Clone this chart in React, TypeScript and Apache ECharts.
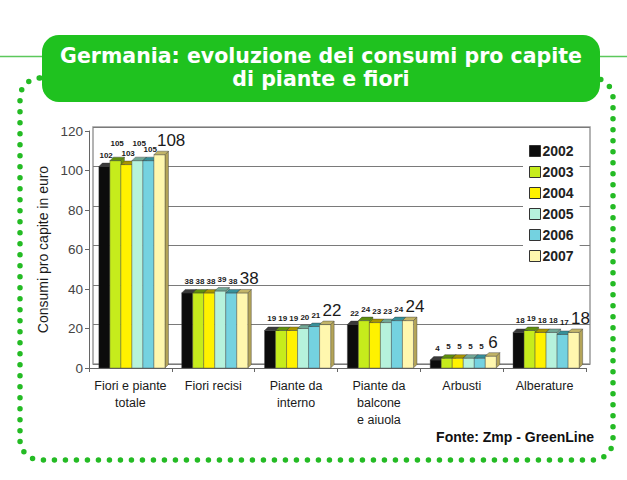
import React, { useEffect, useRef } from "react";
import * as echarts from "echarts";

const categories = [
  "Fiori e piante\ntotale",
  "Fiori recisi",
  "Piante da\ninterno",
  "Piante da\nbalcone\ne aiuola",
  "Arbusti",
  "Alberature",
];
const years = ["2002", "2003", "2004", "2005", "2006", "2007"];
const v2002 = [102, 38, 19, 22, 4, 18];
const v2003 = [105, 38, 19, 24, 5, 19];
const v2004 = [103, 38, 19, 23, 5, 18];
const v2005 = [105, 39, 20, 23, 5, 18];
const v2006 = [105, 38, 21, 24, 5, 17];
const v2007 = [108, 38, 22, 24, 6, 18];
const seriesValues = [v2002, v2003, v2004, v2005, v2006, v2007];

const frontColors = ["#0c0c0c", "#c6ec1c", "#fff200", "#b6f2dc", "#74d2e0", "#fff7ae"];
const topColors = ["#3a3a3a", "#5f8f0c", "#a89600", "#72a896", "#36909a", "#c2b468"];
const sideColors = ["#000000", "#6f9a08", "#b8a400", "#86b8a6", "#4a9ca6", "#b4a458"];

const SANS = "'Liberation Sans', Arial, sans-serif";
const TITLE_FONT = "'DejaVu Sans', 'Liberation Sans', sans-serif";

export default function App() {
  const ref = useRef<HTMLDivElement>(null);

  useEffect(() => {
    if (!ref.current) return;
    const chart = echarts.init(ref.current, undefined, { renderer: "svg" });
    const d = 3.5;

    const makeRender = (si: number) => (params: any, api: any) => {
      const ci = api.value(0);
      const v = api.value(1);
      const base = api.coord([ci, 0]);
      const top = api.coord([ci, v]);
      const band = api.size([1, 0])[0];
      const bw = band * 0.133;
      const x0 = base[0] - (bw * 6) / 2 + si * bw + 1.5;
      const x1 = x0 + bw;
      const yT = top[1];
      const yB = base[1];
      const big = si === 5;
      const raised = (si === 1 || si === 3) && v >= 100;
      return {
        type: "group",
        children: [
          {
            type: "polygon",
            shape: { points: [[x1, yT], [x1 + d, yT - d], [x1 + d, yB - d], [x1, yB]] },
            style: { fill: sideColors[si], stroke: "#333", lineWidth: 0.4 },
          },
          {
            type: "rect",
            shape: { x: x0, y: yT, width: bw, height: yB - yT },
            style: { fill: frontColors[si], stroke: "#444", lineWidth: 0.4 },
          },
          {
            type: "polygon",
            shape: { points: [[x0, yT], [x0 + d, yT - d], [x1 + d, yT - d], [x1, yT]] },
            style: { fill: topColors[si], stroke: "#333", lineWidth: 0.4 },
          },
          {
            type: "text",
            z2: 10,
            style: big
              ? {
                  x: x0 + 3,
                  y: yT - d - 2,
                  text: String(v),
                  align: "left",
                  verticalAlign: "bottom",
                  fontSize: 17,
                  fontFamily: SANS,
                  fill: "#1a1a1a",
                }
              : {
                  x: (x0 + x1) / 2 + d / 2,
                  y: yT - d - (raised ? 10 : 4),
                  text: String(v),
                  align: "center",
                  verticalAlign: "bottom",
                  fontSize: 8,
                  fontWeight: "bold",
                  fontFamily: SANS,
                  fill: "#1a1a1a",
                },
          },
        ],
      };
    };

    const option: any = {
      animation: false,
      backgroundColor: "#ffffff",
      grid: [
        { left: 89, right: 41, top: 131, bottom: 112 },
        {
          left: 93,
          right: 37,
          top: 127,
          bottom: 116,
          show: true,
          borderColor: "#9a9a9a",
          borderWidth: 1.5,
          backgroundColor: "transparent",
        },
      ],
      xAxis: [
        {
          type: "category",
          gridIndex: 0,
          data: categories,
          axisLine: { show: true, lineStyle: { color: "#666", width: 1 } },
          axisTick: { show: true, length: 4, interval: 0, lineStyle: { color: "#666" } },
          axisLabel: {
            interval: 0,
            margin: 9,
            fontSize: 12.5,
            lineHeight: 17,
            color: "#1a1a1a",
            fontFamily: SANS,
          },
          splitLine: { show: false },
        },
        {
          type: "category",
          gridIndex: 1,
          data: categories,
          show: false,
        },
      ],
      yAxis: [
        {
          type: "value",
          gridIndex: 0,
          min: 0,
          max: 120,
          interval: 20,
          axisLine: { show: true, lineStyle: { color: "#666", width: 1 } },
          axisTick: { show: true, length: 4, lineStyle: { color: "#666" } },
          axisLabel: { fontSize: 13.5, color: "#444", margin: 6, fontFamily: SANS },
          splitLine: { show: false },
          name: "Consumi pro capite in euro",
          nameLocation: "middle",
          nameGap: 37,
          nameRotate: 90,
          nameTextStyle: { fontSize: 14, color: "#1a1a1a", fontFamily: SANS },
        },
        {
          type: "value",
          gridIndex: 1,
          min: 0,
          max: 120,
          interval: 20,
          axisLine: { show: false },
          axisTick: { show: false },
          axisLabel: { show: false },
          splitLine: { show: true, lineStyle: { color: "#7a7a7a", width: 1 } },
        },
      ],
      legend: {
        orient: "vertical",
        left: 523,
        top: 139,
        backgroundColor: "#ffffff",
        padding: [4, 6, 4, 6],
        itemWidth: 11,
        itemHeight: 11,
        itemGap: 5,
        icon: "rect",
        textStyle: {
          fontSize: 14,
          fontWeight: "bold",
          color: "#222",
          lineHeight: 16,
          fontFamily: SANS,
          padding: [0, 0, 0, -3],
        },
        itemStyle: { borderColor: "#333", borderWidth: 1 },
        data: years,
      },
      series: years.map((y, si) => ({
        type: "custom",
        name: y,
        xAxisIndex: 0,
        yAxisIndex: 0,
        itemStyle: { color: frontColors[si] },
        encode: { x: 0, y: 1 },
        data: seriesValues[si].map((v, ci) => [ci, v]),
        renderItem: makeRender(si),
      })),
      graphic: [
        {
          type: "line",
          z: -10,
          shape: { x1: 0, y1: 56.5, x2: 627, y2: 56.5 },
          style: { stroke: "#5cc85c", lineWidth: 1.5 },
        },
        {
          type: "rect",
          z: -9,
          shape: { x: 20, y: 78, width: 593, height: 382, r: 20 },
          style: {
            fill: "none",
            stroke: "#24bb24",
            lineWidth: 5.5,
            lineDash: [0, 11],
            lineCap: "round",
          },
        },
        {
          type: "rect",
          z: 5,
          shape: { x: 42, y: 35, width: 558, height: 67, r: 17 },
          style: { fill: "#1fc21f" },
        },
        {
          type: "text",
          z: 6,
          style: {
            x: 321,
            y: 56,
            text: "Germania: evoluzione dei consumi pro capite",
            align: "center",
            verticalAlign: "middle",
            fontSize: 20.5,
            fontWeight: "bold",
            fontFamily: TITLE_FONT,
            fill: "#ffffff",
          },
        },
        {
          type: "text",
          z: 6,
          style: {
            x: 321,
            y: 79,
            text: "di piante e fiori",
            align: "center",
            verticalAlign: "middle",
            fontSize: 20.5,
            fontWeight: "bold",
            fontFamily: TITLE_FONT,
            fill: "#ffffff",
          },
        },
        {
          type: "text",
          z: 6,
          style: {
            x: 594,
            y: 437,
            text: "Fonte: Zmp - GreenLine",
            align: "right",
            verticalAlign: "middle",
            fontSize: 14,
            fontWeight: "bold",
            fontFamily: SANS,
            fill: "#111111",
          },
        },
      ],
    };

    chart.setOption(option);
    return () => chart.dispose();
  }, []);

  return (
    <div
      ref={ref}
      style={{ position: "absolute", left: 0, top: 0, width: 627, height: 480 }}
    />
  );
}
